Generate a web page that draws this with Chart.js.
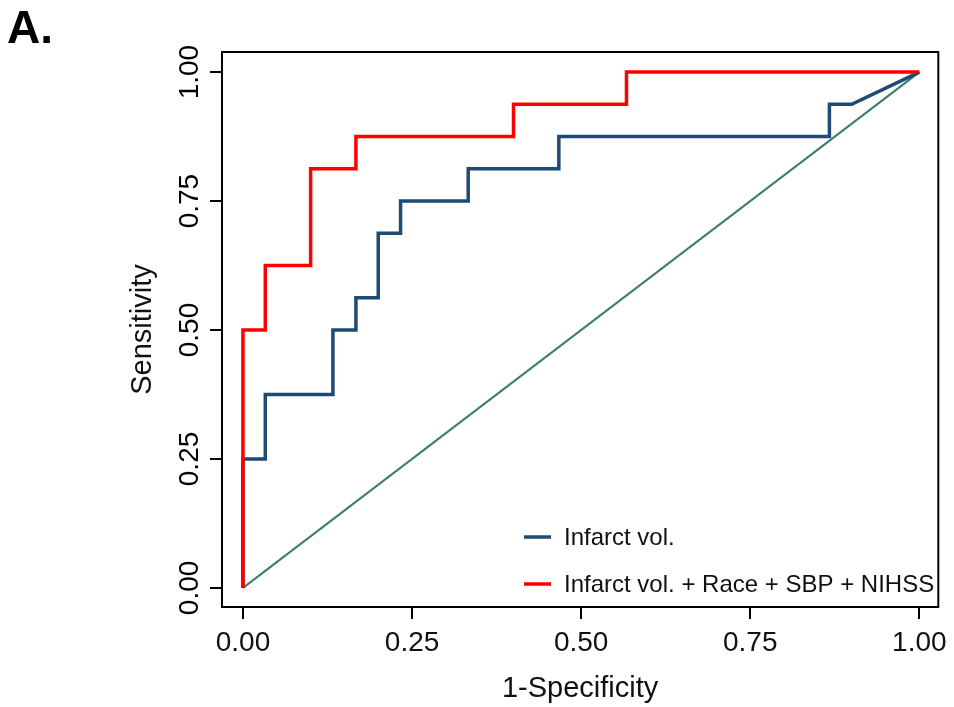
<!DOCTYPE html>
<html>
<head>
<meta charset="utf-8">
<script src="https://cdn.jsdelivr.net/npm/chart.js@4.4.1/dist/chart.umd.min.js"></script>
<style>
  body { margin: 0; background: #fff; }
  #wrap { width: 954px; height: 707px; }
</style>
</head>
<body>
<div id="wrap"><canvas id="roc" width="954" height="707"></canvas></div>
<script>
// ROC corner points (1-specificity, sensitivity)
var infarctFpr = [0, 0, 0.033, 0.033, 0.133, 0.133, 0.167, 0.167, 0.2, 0.2, 0.233, 0.233, 0.333, 0.333, 0.467, 0.467, 0.867, 0.867, 0.9, 1];
var infarctTpr = [0, 0.25, 0.25, 0.375, 0.375, 0.5, 0.5, 0.5625, 0.5625, 0.6875, 0.6875, 0.75, 0.75, 0.8125, 0.8125, 0.875, 0.875, 0.9375, 0.9375, 1];

var modelFpr = [0, 0, 0.033, 0.033, 0.1, 0.1, 0.167, 0.167, 0.4, 0.4, 0.567, 0.567, 1];
var modelTpr = [0, 0.5, 0.5, 0.625, 0.625, 0.8125, 0.8125, 0.875, 0.875, 0.9375, 0.9375, 1, 1];

var refFpr = [0, 1];
var refTpr = [0, 1];

var seriesLabels = ['Infarct vol.', 'Infarct vol. + Race + SBP + NIHSS'];
var xTickValues = [0, 0.25, 0.5, 0.75, 1];
var yTickValues = [0, 0.25, 0.5, 0.75, 1];

var BLUE = '#1d4b74';
var RED = '#ff0000';
var TEAL = '#3b7d6e';
var FONT = "'Liberation Sans', Arial, Helvetica, sans-serif";

function pts(xs, ys) {
    return xs.map(function(x, i) { return {x: x, y: ys[i]}; });
}

// frame box, panel letter, rotated y tick labels, legend inside plot
var decor = {
    id: 'decor',
    afterDraw: function(chart) {
        var ctx = chart.ctx, a = chart.chartArea;
        ctx.save();
        ctx.strokeStyle = '#000';
        ctx.lineWidth = 2;
        ctx.strokeRect(a.left, a.top, a.right - a.left, a.bottom - a.top);

        ctx.fillStyle = '#000';
        ctx.font = 'bold 46px ' + FONT;
        ctx.textAlign = 'left';
        ctx.textBaseline = 'alphabetic';
        ctx.fillText('A.', 7, 43);

        var ys = chart.scales.y;
        ctx.font = '28px ' + FONT;
        ctx.textAlign = 'center';
        ctx.textBaseline = 'middle';
        ys.ticks.forEach(function(t) {
            var py = ys.getPixelForValue(t.value);
            ctx.save();
            ctx.translate(190, py);
            ctx.rotate(-Math.PI / 2);
            ctx.fillText(t.value.toFixed(2), 0, 0);
            ctx.restore();
        });

        ctx.font = '24px ' + FONT;
        ctx.textAlign = 'left';
        var rows = [537, 584];
        [0, 1].forEach(function(i) {
            var ds = chart.data.datasets.filter(function(d) { return d.label === seriesLabels[i]; })[0];
            ctx.strokeStyle = ds.borderColor;
            ctx.lineWidth = 3.5;
            ctx.beginPath();
            ctx.moveTo(524, rows[i]);
            ctx.lineTo(551, rows[i]);
            ctx.stroke();
            ctx.fillStyle = '#111';
            ctx.fillText(ds.label, 564, rows[i] + 1);
        });
        ctx.restore();
    }
};

Chart.defaults.font.family = FONT;
Chart.defaults.color = '#111';

var ctx = document.getElementById('roc').getContext('2d');
var rocChart = new Chart(ctx, {
    type: 'scatter',
    data: {
        datasets: [{
            label: seriesLabels[1],
            data: pts(modelFpr, modelTpr),
            showLine: true,
            borderColor: RED,
            borderWidth: 3.5,
            pointRadius: 0,
            order: 1
        }, {
            label: seriesLabels[0],
            data: pts(infarctFpr, infarctTpr),
            showLine: true,
            borderColor: BLUE,
            borderWidth: 3.5,
            pointRadius: 0,
            order: 2
        }, {
            label: 'reference',
            data: pts(refFpr, refTpr),
            showLine: true,
            borderColor: TEAL,
            borderWidth: 2,
            pointRadius: 0,
            order: 3
        }]
    },
    options: {
        responsive: false,
        animation: false,
        layout: { padding: { top: 52, right: 15, left: 0, bottom: 0 } },
        plugins: { legend: { display: false }, tooltip: { enabled: false } },
        scales: {
            x: {
                type: 'linear',
                min: -0.031,
                max: 1.028,
                afterBuildTicks: function(s) { s.ticks = xTickValues.map(function(v) { return {value: v}; }); },
                afterFit: function(s) { s.height = 100; },
                grid: { drawOnChartArea: false, drawTicks: true, tickLength: 12, color: '#000', lineWidth: 2 },
                border: { display: true, color: '#000', width: 2 },
                ticks: {
                    font: { size: 28 },
                    padding: 7,
                    maxRotation: 0,
                    callback: function(v) { return Number(v).toFixed(2); }
                },
                title: { display: true, text: '1-Specificity', font: { size: 29 }, padding: { top: 0, bottom: 1 } }
            },
            y: {
                type: 'linear',
                min: -0.037,
                max: 1.039,
                afterBuildTicks: function(s) { s.ticks = yTickValues.map(function(v) { return {value: v}; }); },
                afterFit: function(s) { s.width = 222; },
                grid: { drawOnChartArea: false, drawTicks: true, tickLength: 12, color: '#000', lineWidth: 2 },
                border: { display: true, color: '#000', width: 2 },
                ticks: { display: false },
                title: { display: true, text: 'Sensitivity', font: { size: 29 }, padding: { top: 126, bottom: 0 } }
            }
        }
    },
    plugins: [decor]
});
</script>
</body>
</html>
